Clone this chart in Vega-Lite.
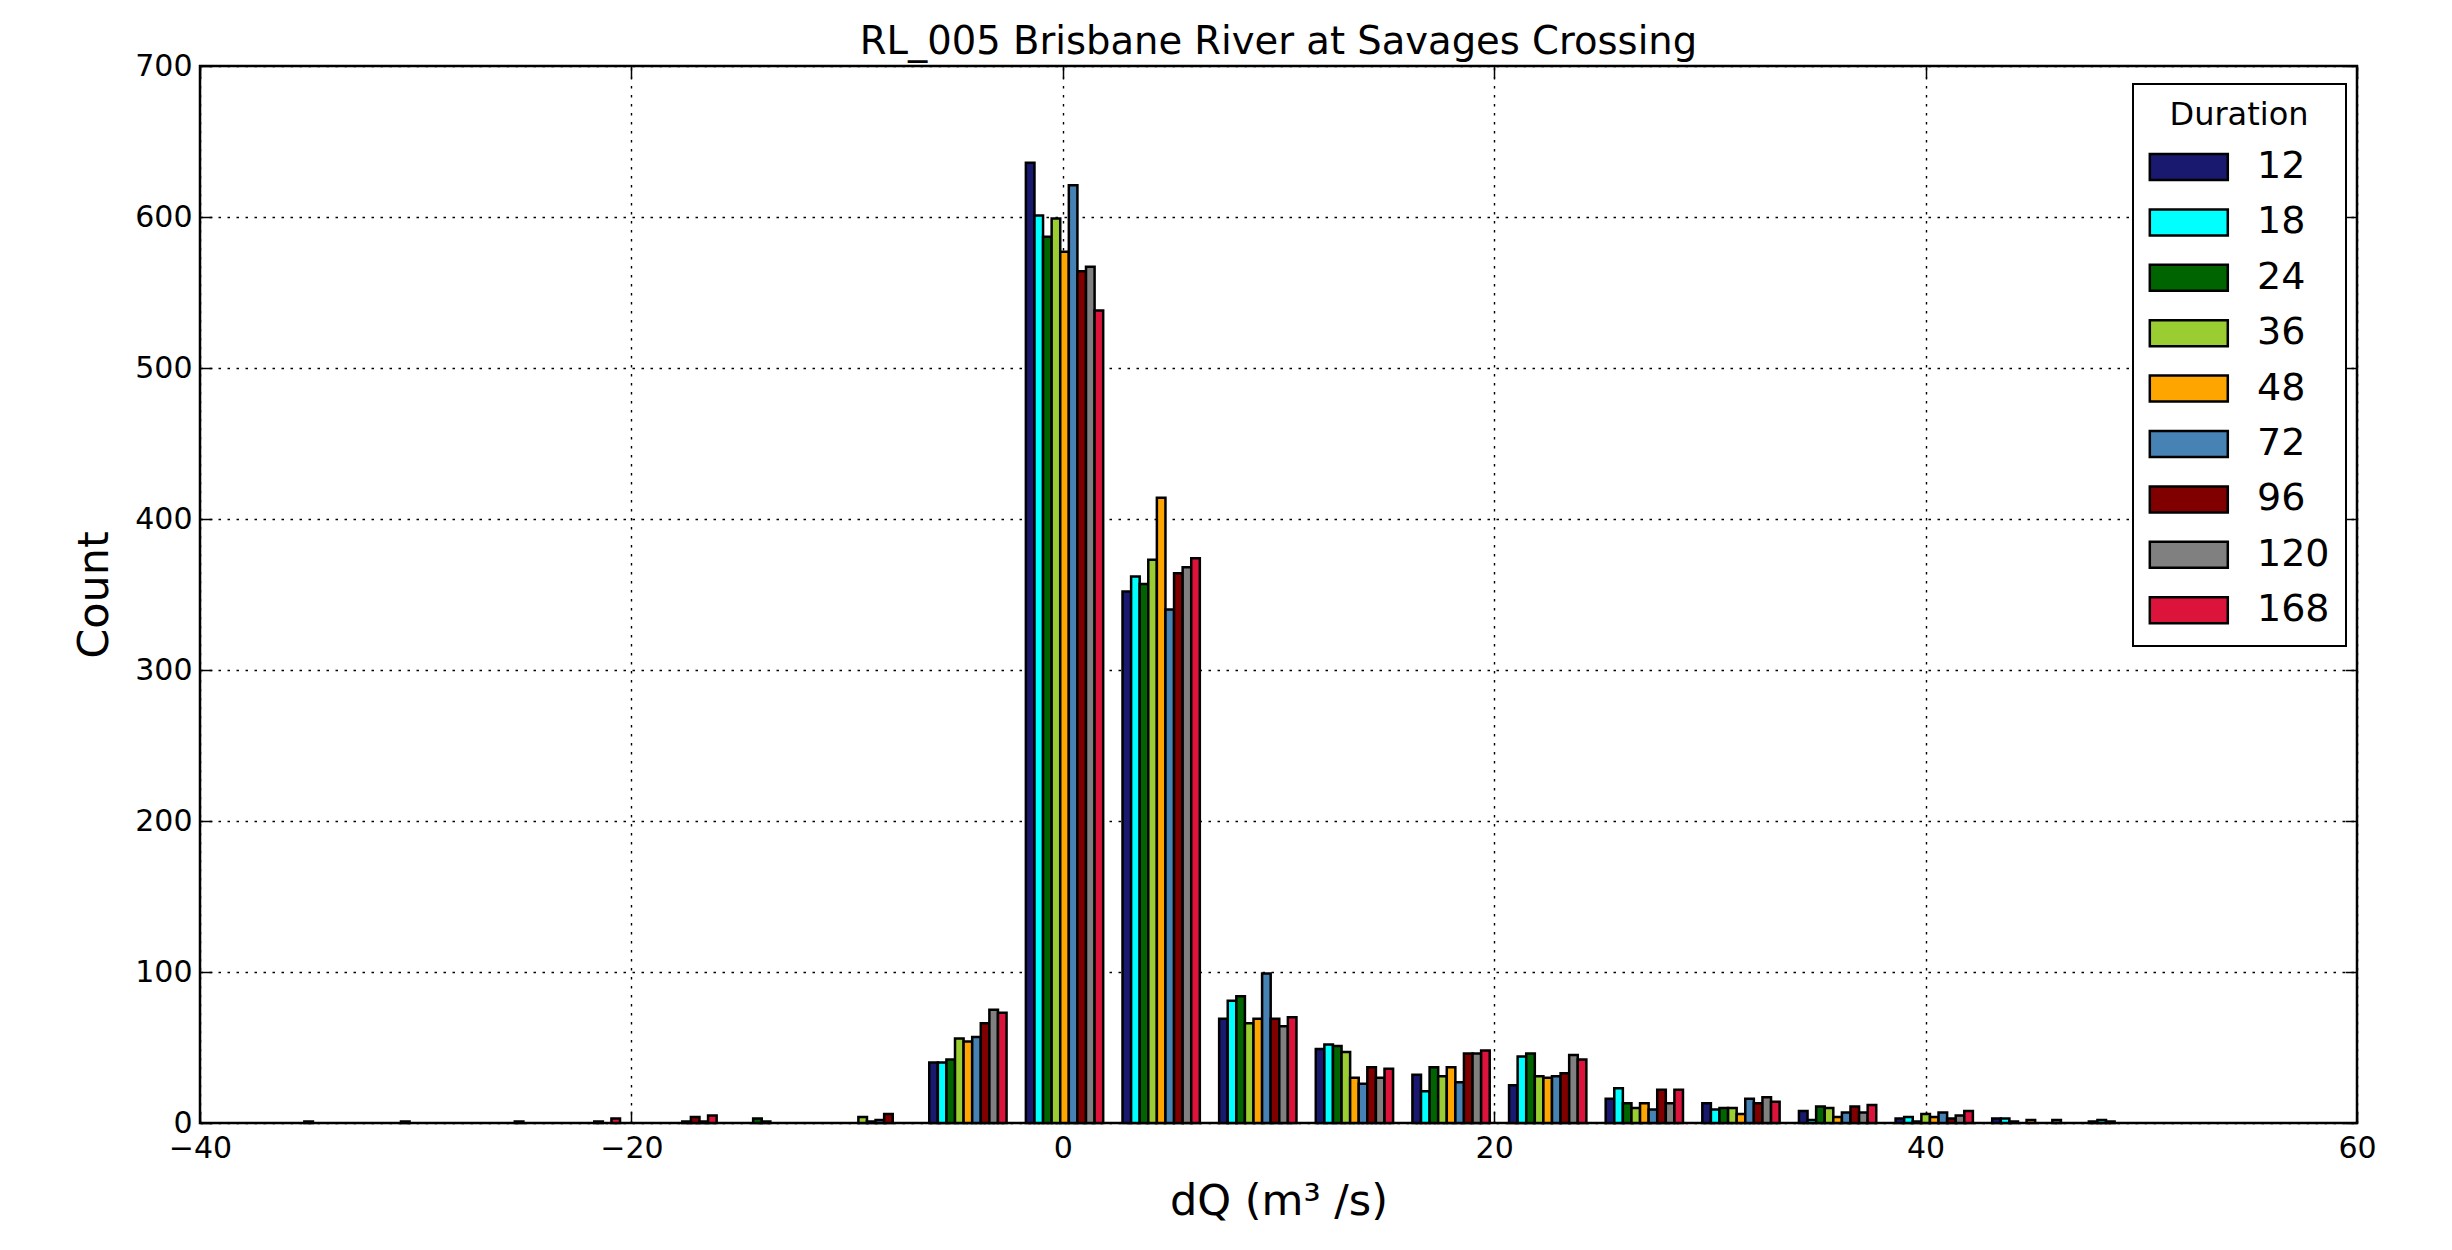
{
  "$schema": "https://vega.github.io/schema/vega-lite/v6.json",
  "width": 2157,
  "height": 1057,
  "autosize": {"type": "none"},
  "padding": {"left": 200, "top": 66, "right": 95, "bottom": 127},
  "background": "white",
  "config": {
    "font": "DejaVu Sans",
    "view": {"stroke": "black", "strokeWidth": 2.5},
    "axis": {"labelFont": "DejaVu Sans", "titleFont": "DejaVu Sans", "labelColor": "black", "titleColor": "black", "tickColor": "black", "domain": false}
  },
  "title": {"text": "RL_005 Brisbane River at Savages Crossing", "fontSize": 38.5, "fontWeight": "normal", "font": "DejaVu Sans", "color": "black", "baseline": "alphabetic", "offset": -41, "anchor": "middle"},
  "datasets": {
    "hist": [
      {"bin": -38, "duration": "96", "count": 1},
      {"bin": -33.52, "duration": "96", "count": 1},
      {"bin": -29.04, "duration": "168", "count": 1},
      {"bin": -24.56, "duration": "96", "count": 1},
      {"bin": -24.56, "duration": "168", "count": 3},
      {"bin": -20.08, "duration": "72", "count": 1},
      {"bin": -20.08, "duration": "96", "count": 4},
      {"bin": -20.08, "duration": "120", "count": 1},
      {"bin": -20.08, "duration": "168", "count": 5},
      {"bin": -15.6, "duration": "24", "count": 3},
      {"bin": -15.6, "duration": "36", "count": 1},
      {"bin": -11.12, "duration": "36", "count": 4},
      {"bin": -11.12, "duration": "48", "count": 1},
      {"bin": -11.12, "duration": "72", "count": 2},
      {"bin": -11.12, "duration": "96", "count": 6},
      {"bin": -6.64, "duration": "12", "count": 40},
      {"bin": -6.64, "duration": "18", "count": 40},
      {"bin": -6.64, "duration": "24", "count": 42},
      {"bin": -6.64, "duration": "36", "count": 56},
      {"bin": -6.64, "duration": "48", "count": 54},
      {"bin": -6.64, "duration": "72", "count": 57},
      {"bin": -6.64, "duration": "96", "count": 66},
      {"bin": -6.64, "duration": "120", "count": 75},
      {"bin": -6.64, "duration": "168", "count": 73},
      {"bin": -2.16, "duration": "12", "count": 636},
      {"bin": -2.16, "duration": "18", "count": 601},
      {"bin": -2.16, "duration": "24", "count": 587},
      {"bin": -2.16, "duration": "36", "count": 599},
      {"bin": -2.16, "duration": "48", "count": 577},
      {"bin": -2.16, "duration": "72", "count": 621},
      {"bin": -2.16, "duration": "96", "count": 564},
      {"bin": -2.16, "duration": "120", "count": 567},
      {"bin": -2.16, "duration": "168", "count": 538},
      {"bin": 2.32, "duration": "12", "count": 352},
      {"bin": 2.32, "duration": "18", "count": 362},
      {"bin": 2.32, "duration": "24", "count": 357},
      {"bin": 2.32, "duration": "36", "count": 373},
      {"bin": 2.32, "duration": "48", "count": 414},
      {"bin": 2.32, "duration": "72", "count": 340},
      {"bin": 2.32, "duration": "96", "count": 364},
      {"bin": 2.32, "duration": "120", "count": 368},
      {"bin": 2.32, "duration": "168", "count": 374},
      {"bin": 6.8, "duration": "12", "count": 69},
      {"bin": 6.8, "duration": "18", "count": 81},
      {"bin": 6.8, "duration": "24", "count": 84},
      {"bin": 6.8, "duration": "36", "count": 66},
      {"bin": 6.8, "duration": "48", "count": 69},
      {"bin": 6.8, "duration": "72", "count": 99},
      {"bin": 6.8, "duration": "96", "count": 69},
      {"bin": 6.8, "duration": "120", "count": 64},
      {"bin": 6.8, "duration": "168", "count": 70},
      {"bin": 11.28, "duration": "12", "count": 49},
      {"bin": 11.28, "duration": "18", "count": 52},
      {"bin": 11.28, "duration": "24", "count": 51},
      {"bin": 11.28, "duration": "36", "count": 47},
      {"bin": 11.28, "duration": "48", "count": 30},
      {"bin": 11.28, "duration": "72", "count": 26},
      {"bin": 11.28, "duration": "96", "count": 37},
      {"bin": 11.28, "duration": "120", "count": 30},
      {"bin": 11.28, "duration": "168", "count": 36},
      {"bin": 15.76, "duration": "12", "count": 32},
      {"bin": 15.76, "duration": "18", "count": 21},
      {"bin": 15.76, "duration": "24", "count": 37},
      {"bin": 15.76, "duration": "36", "count": 31},
      {"bin": 15.76, "duration": "48", "count": 37},
      {"bin": 15.76, "duration": "72", "count": 27},
      {"bin": 15.76, "duration": "96", "count": 46},
      {"bin": 15.76, "duration": "120", "count": 46},
      {"bin": 15.76, "duration": "168", "count": 48},
      {"bin": 20.24, "duration": "12", "count": 25},
      {"bin": 20.24, "duration": "18", "count": 44},
      {"bin": 20.24, "duration": "24", "count": 46},
      {"bin": 20.24, "duration": "36", "count": 31},
      {"bin": 20.24, "duration": "48", "count": 30},
      {"bin": 20.24, "duration": "72", "count": 31},
      {"bin": 20.24, "duration": "96", "count": 33},
      {"bin": 20.24, "duration": "120", "count": 45},
      {"bin": 20.24, "duration": "168", "count": 42},
      {"bin": 24.72, "duration": "12", "count": 16},
      {"bin": 24.72, "duration": "18", "count": 23},
      {"bin": 24.72, "duration": "24", "count": 13},
      {"bin": 24.72, "duration": "36", "count": 10},
      {"bin": 24.72, "duration": "48", "count": 13},
      {"bin": 24.72, "duration": "72", "count": 9},
      {"bin": 24.72, "duration": "96", "count": 22},
      {"bin": 24.72, "duration": "120", "count": 13},
      {"bin": 24.72, "duration": "168", "count": 22},
      {"bin": 29.2, "duration": "12", "count": 13},
      {"bin": 29.2, "duration": "18", "count": 9},
      {"bin": 29.2, "duration": "24", "count": 10},
      {"bin": 29.2, "duration": "36", "count": 10},
      {"bin": 29.2, "duration": "48", "count": 6},
      {"bin": 29.2, "duration": "72", "count": 16},
      {"bin": 29.2, "duration": "96", "count": 13},
      {"bin": 29.2, "duration": "120", "count": 17},
      {"bin": 29.2, "duration": "168", "count": 14},
      {"bin": 33.68, "duration": "12", "count": 8},
      {"bin": 33.68, "duration": "18", "count": 2},
      {"bin": 33.68, "duration": "24", "count": 11},
      {"bin": 33.68, "duration": "36", "count": 10},
      {"bin": 33.68, "duration": "48", "count": 4},
      {"bin": 33.68, "duration": "72", "count": 7},
      {"bin": 33.68, "duration": "96", "count": 11},
      {"bin": 33.68, "duration": "120", "count": 7},
      {"bin": 33.68, "duration": "168", "count": 12},
      {"bin": 38.16, "duration": "12", "count": 3},
      {"bin": 38.16, "duration": "18", "count": 4},
      {"bin": 38.16, "duration": "24", "count": 1},
      {"bin": 38.16, "duration": "36", "count": 6},
      {"bin": 38.16, "duration": "48", "count": 4},
      {"bin": 38.16, "duration": "72", "count": 7},
      {"bin": 38.16, "duration": "96", "count": 3},
      {"bin": 38.16, "duration": "120", "count": 5},
      {"bin": 38.16, "duration": "168", "count": 8},
      {"bin": 42.64, "duration": "12", "count": 3},
      {"bin": 42.64, "duration": "18", "count": 3},
      {"bin": 42.64, "duration": "24", "count": 1},
      {"bin": 42.64, "duration": "48", "count": 2},
      {"bin": 42.64, "duration": "120", "count": 2},
      {"bin": 47.12, "duration": "12", "count": 1},
      {"bin": 47.12, "duration": "18", "count": 2},
      {"bin": 47.12, "duration": "24", "count": 1}
    ]
  },
  "layer": [
    {
      "data": {"name": "hist"},
      "mark": {"type": "bar", "stroke": "black", "strokeWidth": 2.5, "opacity": 1},
      "encoding": {
        "x": {
          "field": "bin", "type": "ordinal",
          "scale": {"domain": [-38, -33.52, -29.04, -24.56, -20.08, -15.6, -11.12, -6.64, -2.16, 2.32, 6.8, 11.28, 15.76, 20.24, 24.72, 29.2, 33.68, 38.16, 42.64, 47.12, 51.6], "paddingInner": 0.2, "paddingOuter": 0.76071, "align": 0.3592, "round": false},
          "axis": null
        },
        "xOffset": {"field": "duration", "type": "nominal", "scale": {"domain": ["12", "18", "24", "36", "48", "72", "96", "120", "168"], "paddingInner": 0, "paddingOuter": 0}},
        "y": {
          "field": "count", "type": "quantitative",
          "scale": {"domain": [0, 700], "nice": false},
          "axis": {"orient": "left", "values": [0, 100, 200, 300, 400, 500, 600, 700], "grid": true, "gridColor": "black", "gridDash": [2.5, 6.5], "gridWidth": 1.4, "gridOpacity": 1, "labelFontSize": 30, "labelPadding": 20, "tickSize": -12, "tickWidth": 1.5, "title": "Count", "titleFontSize": 43, "titleFontWeight": "normal", "titlePadding": 18}
        },
        "color": {
          "field": "duration", "type": "nominal",
          "scale": {"domain": ["12", "18", "24", "36", "48", "72", "96", "120", "168"], "range": ["#191970", "#00FFFF", "#006400", "#9ACD32", "#FFA500", "#4682B4", "#800000", "#808080", "#DC143C"]},
          "legend": {
            "orient": "none", "legendX": 1933, "legendY": 18,
            "title": "Duration", "titleFontSize": 32, "titleFontWeight": "normal", "titleColor": "black", "titleAnchor": "middle", "titleAlign": "center", "titlePadding": 16,
            "labelFontSize": 38, "labelColor": "black", "labelOffset": 70,
            "symbolType": "M-1.4,-1H4.6V1H-1.4Z", "symbolSize": 676, "symbolStrokeColor": "black", "symbolStrokeWidth": 2.5, "symbolOpacity": 1,
            "rowPadding": 17.4, "padding": 16, "strokeColor": "black", "fillColor": "white", "cornerRadius": 0,
            "encode": {"legend": {"update": {"strokeWidth": {"value": 2}}}}
          }
        }
      }
    },
    {
      "mark": {"type": "rule", "stroke": "black", "strokeWidth": 2, "strokeDash": [3, 5]},
      "encoding": {
        "x": {
          "datum": 0, "type": "quantitative",
          "scale": {"domain": [-40, 60], "nice": false},
          "axis": {"orient": "bottom", "values": [-40, -20, 0, 20, 40, 60], "grid": true, "gridColor": "black", "gridDash": [2.5, 6.5], "gridWidth": 1.4, "gridOpacity": 1, "labelFontSize": 30, "labelPadding": 22, "labelFlush": false, "labelOverlap": false, "labelBound": false, "tickSize": -12, "tickWidth": 1.5, "title": "dQ (m³ /s)", "titleFontSize": 43, "titleFontWeight": "normal", "titlePadding": 17}
        }
      }
    },
    {
      "mark": {"type": "rule", "strokeOpacity": 0},
      "encoding": {
        "x": {
          "datum": 0, "type": "quantitative",
          "scale": {"domain": [-40, 60], "nice": false},
          "axis": {"orient": "top", "values": [-40, -20, 0, 20, 40, 60], "grid": false, "labels": false, "tickSize": -12, "tickWidth": 1.5, "title": null, "minExtent": 0, "maxExtent": 0}
        }
      }
    },
    {
      "mark": {"type": "rule", "strokeOpacity": 0},
      "encoding": {
        "y": {
          "datum": 0, "type": "quantitative",
          "scale": {"domain": [0, 700], "nice": false},
          "axis": {"orient": "right", "values": [0, 100, 200, 300, 400, 500, 600, 700], "grid": false, "labels": false, "tickSize": -12, "tickWidth": 1.5, "title": null, "minExtent": 0, "maxExtent": 0}
        }
      }
    }
  ],
  "resolve": {"scale": {"x": "independent", "y": "independent"}}
}
